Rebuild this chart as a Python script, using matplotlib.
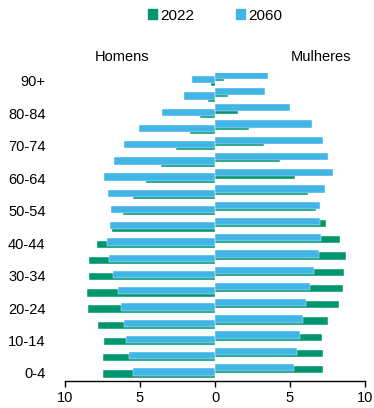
import matplotlib
matplotlib.use("Agg")
import matplotlib.pyplot as plt
import numpy as np
from matplotlib.patches import Patch

plt.rcParams['font.family'] = ['Liberation Sans', 'DejaVu Sans']

# Age groups, youngest first
ages = ['0-4', '5-9', '10-14', '15-19', '20-24', '25-29', '30-34', '35-39',
        '40-44', '45-49', '50-54', '55-59', '60-64', '65-69', '70-74',
        '75-79', '80-84', '85-89', '90+']

# Share of population (%) by age group
men_2022 = [7.47, 7.49, 7.42, 7.78, 8.44, 8.53, 8.42, 8.40, 7.84, 6.84,
            6.13, 5.49, 4.60, 3.58, 2.58, 1.67, 1.00, 0.49, 0.27]
men_2060 = [5.49, 5.73, 5.91, 6.07, 6.27, 6.49, 6.78, 7.07, 7.18, 7.02,
            6.91, 7.13, 7.40, 6.73, 6.09, 5.04, 3.51, 2.04, 1.55]
women_2022 = [7.18, 7.20, 7.13, 7.51, 8.24, 8.53, 8.58, 8.73, 8.33, 7.40,
              6.71, 6.18, 5.33, 4.33, 3.29, 2.29, 1.51, 0.89, 0.62]
women_2060 = [5.27, 5.49, 5.67, 5.84, 6.07, 6.33, 6.62, 6.93, 7.07, 7.00,
              6.98, 7.33, 7.87, 7.53, 7.18, 6.44, 5.02, 3.36, 3.51]

series_labels = ['2022', '2060']
x_ticks = [-10, -5, 0, 5, 10]
x_tick_labels = ['10', '5', '0', '5', '10']

GREEN = '#00966E'
BLUE = '#41B5E6'

fig = plt.figure(figsize=(3.74, 4.08), dpi=100)
ax = fig.add_axes([65 / 374, 1 - 381.1 / 408, 300 / 374, (381.1 - 72.7) / 408])

y = np.arange(len(ages))
h = 0.45
d = 0.065
# the women's half sits slightly higher than the men's half
shift_w = 0.27

ax.barh(y - d, -np.array(men_2022), height=h, color=GREEN,
        edgecolor='white', linewidth=0.3, zorder=2)
ax.barh(y - d + shift_w, women_2022, height=h, color=GREEN,
        edgecolor='white', linewidth=0.3, zorder=2)
ax.barh(y + d, -np.array(men_2060), height=h, color=BLUE,
        edgecolor='white', linewidth=0.3, zorder=3)
ax.barh(y + d + shift_w, women_2060, height=h, color=BLUE,
        edgecolor='white', linewidth=0.3, zorder=3)

ax.set_xlim(-10, 10)
ax.set_ylim(-0.5, len(ages) - 0.5)

ax.set_xticks(x_ticks)
ax.set_xticklabels(x_tick_labels, fontsize=10.5)
ax.tick_params(axis='x', direction='out', length=4, width=1, pad=3, colors='black')

ax.set_yticks(y[::2])
ax.set_yticklabels(ages[::2], fontsize=10.5)
ax.tick_params(axis='y', length=0, pad=14)

for s in ['top', 'right', 'left']:
    ax.spines[s].set_visible(False)
ax.spines['bottom'].set_linewidth(1)
ax.spines['bottom'].set_color('black')

# Central vertical axis in light grey with small category ticks
sec = ax.secondary_yaxis(0.5)
sec.spines['right'].set_visible(False)
sec.spines['left'].set_color('#D0D0D0')
sec.spines['left'].set_linewidth(1.5)
sec.set_yticks(np.arange(-0.5, len(ages), 1.0))
sec.set_yticklabels([])
sec.tick_params(axis='y', direction='out', length=3, width=1, colors='#D0D0D0')

fig.text(122 / 374, 1 - 57 / 408, 'Homens', ha='center', va='center', fontsize=10.5)
fig.text(321 / 374, 1 - 57 / 408, 'Mulheres', ha='center', va='center', fontsize=10.5)

handles = [Patch(color=GREEN), Patch(color=BLUE)]
fig.legend(handles, series_labels, loc='center', bbox_to_anchor=(215 / 374, 1 - 15.5 / 408),
           ncol=2, frameon=False, fontsize=11, handlelength=0.6, handleheight=0.6,
           handletextpad=0.2, columnspacing=2.7)

fig.savefig('out.png', dpi=100)
